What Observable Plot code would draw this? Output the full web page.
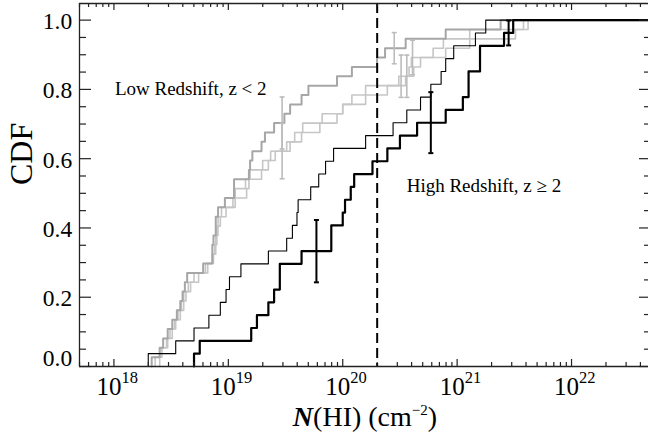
<!DOCTYPE html>
<html><head><meta charset="utf-8">
<script src="https://cdn.jsdelivr.net/npm/d3@7"></script>
<script src="https://cdn.jsdelivr.net/npm/@observablehq/plot@0.6"></script>
<style>
html,body{margin:0;padding:0;background:#fff;overflow:hidden;}
#chart svg{display:block;overflow:hidden;}
</style></head><body><div id="chart"></div>
<script>
// log10 N(HI) values of each sample
const highThinLogN = [18.30,18.54,18.70,18.83,18.93,18.98,19.01,19.11,19.35,19.51,19.56,19.60,19.61,19.72,19.79,19.85,19.92,20.20,20.44,20.56,20.68,20.77,20.86,20.90,20.97,21.16,21.25];
const highThickLogN = [18.70,18.75,19.20,19.25,19.35,19.40,19.45,19.45,19.64,19.90,19.90,20.00,20.02,20.07,20.10,20.26,20.39,20.50,20.65,20.90,21.05,21.10,21.10,21.20,21.20,21.41,21.49];
const lowALogN = [18.33,18.40,18.43,18.47,18.51,18.55,18.58,18.60,18.62,18.64,18.78,18.86,18.86,18.87,18.89,18.89,18.91,18.97,19.05,19.05,19.18,19.19,19.21,19.29,19.32,19.40,19.49,19.54,19.64,19.70,19.95,20.08,20.30,20.37,20.55,20.90,21.38];
const lowBLogN = [18.36,18.40,18.46,18.49,18.53,18.56,18.59,18.61,18.65,18.70,18.80,18.87,18.88,18.89,18.90,18.91,18.94,19.04,19.06,19.15,19.19,19.30,19.37,19.54,19.64,19.80,19.95,20.00,20.20,20.39,20.49,20.62,20.68,20.90,21.11,21.51,21.58];
const lowCLogN = [18.40,18.42,18.47,18.51,18.54,18.58,18.61,18.63,18.67,18.74,18.82,18.86,18.89,18.90,18.91,18.93,18.98,19.06,19.16,19.18,19.29,19.35,19.41,19.51,19.58,19.65,19.82,20.00,20.08,20.20,20.55,20.58,20.60,20.79,20.88,21.11,21.62];

// error bars
const errSeries = ["high","high","high","low","low","low","low","low","low"];
const errLogN   = [19.77,20.77,21.45,19.47,20.45,19.47,20.51,20.56,20.61];
const errCdf    = [0.333,0.704,0.963,0.703,0.919,0.622,0.838,0.838,0.892];
const errSize   = [0.090,0.088,0.036,0.075,0.045,0.080,0.061,0.061,0.050];

// annotations
const annText = ["Low Redshift, z < 2", "High Redshift, z \u2265 2"];
const annLogN = [18.0, 20.55];
const annCdf  = [0.80, 0.52];

// threshold
const thresholdN = [2e20];

// ticks
const yMajor = [0, 0.2, 0.4, 0.6, 0.8, 1.0];
const yMajorLabels = ["0.0","0.2","0.4","0.6","0.8","1.0"];
const yMinor = [0.05,0.10,0.15,0.25,0.30,0.35,0.45,0.50,0.55,0.65,0.70,0.75,0.85,0.90,0.95];
const xMajor = [1e18, 1e19, 1e20, 1e21, 1e22];
const xTickBase = ["10","10","10","10","10"];
const xTickExp = ["18","19","20","21","22"];
const xMinorMult = [2,3,4,5,6,7,8,9];
const xDecades = [1e17,1e18,1e19,1e20,1e21,1e22];

const xMin = 5e17, xMax = 5e22;
const xMinor = [];
xDecades.forEach(dec => xMinorMult.forEach(m => { const v = m * dec; if (v >= xMin && v <= xMax) xMinor.push(v); }));

function ecdf(logs) {
  const s = logs.slice().sort((a, b) => a - b);
  const n = s.length;
  const pts = [{N: 10 ** s[0], F: 0}];
  s.forEach((v, i) => pts.push({N: 10 ** v, F: (i + 1) / n}));
  pts.push({N: xMax, F: 1});
  return pts;
}

const errRows = errLogN.map((l, i) => ({N: 10 ** l, F: errCdf[i], e: errSize[i], s: errSeries[i]}));
const annRows = annText.map((t, i) => ({t, N: 10 ** annLogN[i], F: annCdf[i]}));

const cap = {draw(context, size) { const r = Math.sqrt(size / Math.PI); context.moveTo(-r, 0); context.lineTo(r, 0); }};

const FONT = "'Liberation Serif', 'Times New Roman', serif";
const axisColor = "#222";
const W = 648, H = 434, mL = 79, mT = 3, mB = 68;
const fw = W - mL, fh = H - mT - mB;

const lowThin = "#c6c6c6", lowThick = "#a6a6a6", errGray = "#bcbcbc";

const plot = Plot.plot({
  width: W, height: H,
  marginLeft: mL, marginRight: 0, marginTop: mT, marginBottom: mB,
  x: {type: "log", domain: [xMin, xMax], range: [79, 651], axis: null},
  y: {domain: [0, 1.048], axis: null},
  style: {fontFamily: FONT, background: "white", color: "black"},
  marks: [
    // low-z curves
    Plot.line(ecdf(lowCLogN), {x: "N", y: "F", curve: "step-after", stroke: lowThin, strokeWidth: 1.6}),
    Plot.line(ecdf(lowBLogN), {x: "N", y: "F", curve: "step-after", stroke: lowThin, strokeWidth: 1.6}),
    Plot.line(ecdf(lowALogN), {x: "N", y: "F", curve: "step-after", stroke: lowThick, strokeWidth: 2}),
    Plot.ruleX(errRows, {filter: d => d.s === "low", x: "N", y1: d => d.F - d.e, y2: d => d.F + d.e, stroke: errGray, strokeWidth: 1.6}),
    Plot.dot(errRows, {filter: d => d.s === "low", x: "N", y: d => d.F - d.e, symbol: cap, r: 2.5, fill: "none", stroke: errGray, strokeWidth: 1.6}),
    Plot.dot(errRows, {filter: d => d.s === "low", x: "N", y: d => d.F + d.e, symbol: cap, r: 2.5, fill: "none", stroke: errGray, strokeWidth: 1.6}),
    // high-z curves
    Plot.line(ecdf(highThinLogN), {x: "N", y: "F", curve: "step-after", stroke: "black", strokeWidth: 1.1}),
    Plot.line(ecdf(highThickLogN), {x: "N", y: "F", curve: "step-after", stroke: "black", strokeWidth: 2.2}),
    Plot.ruleX(errRows, {filter: d => d.s === "high", x: "N", y1: d => d.F - d.e, y2: d => d.F + d.e, stroke: "black", strokeWidth: 2}),
    Plot.dot(errRows, {filter: d => d.s === "high", x: "N", y: d => d.F - d.e, symbol: cap, r: 2.5, fill: "none", stroke: "black", strokeWidth: 2}),
    Plot.dot(errRows, {filter: d => d.s === "high", x: "N", y: d => d.F + d.e, symbol: cap, r: 2.5, fill: "none", stroke: "black", strokeWidth: 2}),
    // threshold
    Plot.ruleX(thresholdN, {stroke: "black", strokeWidth: 2, strokeDasharray: "10,5"}),
    // annotations
    Plot.text(annRows, {x: "N", y: "F", text: "t", textAnchor: "start", dx: 1, fontSize: 19, fill: "black"}),
    // frame (left, top, bottom)
    Plot.ruleX([xMin], {stroke: axisColor, strokeWidth: 1.3}),
    Plot.ruleY([0], {stroke: axisColor, strokeWidth: 1.3}),
    Plot.ruleY([1.048], {stroke: axisColor, strokeWidth: 1.3}),
    // y ticks
    Plot.tickY(yMajor, {y: d => d, insetRight: fw - 12, stroke: axisColor, strokeWidth: 1.2}),
    Plot.tickY(yMinor, {y: d => d, insetRight: fw - 7, stroke: axisColor, strokeWidth: 1.2}),
    Plot.tickY(yMajor, {y: d => d, insetLeft: fw - 9, stroke: axisColor, strokeWidth: 1.2}),
    Plot.tickY(yMinor, {y: d => d, insetLeft: fw - 4, stroke: axisColor, strokeWidth: 1.2}),
    // x ticks
    Plot.tickX(xMajor, {x: d => d, insetTop: fh - 7, stroke: axisColor, strokeWidth: 1.2}),
    Plot.tickX(xMinor, {x: d => d, insetTop: fh - 4, stroke: axisColor, strokeWidth: 1.2}),
    Plot.tickX(xMajor, {x: d => d, insetBottom: fh - 7, stroke: axisColor, strokeWidth: 1.2}),
    Plot.tickX(xMinor, {x: d => d, insetBottom: fh - 4, stroke: axisColor, strokeWidth: 1.2}),
    // y tick labels
    Plot.text(yMajor, {filter: d => d > 0, y: d => d, text: d => yMajorLabels[yMajor.indexOf(d)], frameAnchor: "left", textAnchor: "end", dx: -7.3, dy: 1.5, fontSize: 23.5, fill: "black"}),
    Plot.text(yMajor, {filter: d => d === 0, y: d => d, text: d => yMajorLabels[yMajor.indexOf(d)], frameAnchor: "left", textAnchor: "end", dx: -7.3, dy: -8, fontSize: 23.5, fill: "black"}),
    // x tick labels
    Plot.text(xMajor, {x: d => d, text: d => xTickBase[xMajor.indexOf(d)], frameAnchor: "bottom", textAnchor: "end", lineAnchor: "bottom", dx: 7.5, dy: 28.5, fontSize: 25, fill: "black"}),
    Plot.text(xMajor, {x: d => d, text: d => xTickExp[xMajor.indexOf(d)], frameAnchor: "bottom", textAnchor: "start", lineAnchor: "bottom", dx: 7.5, dy: 16, fontSize: 16.5, fill: "black"}),
    // y axis title
    Plot.text(["CDF"], {frameAnchor: "left", dx: -57.5, rotate: -90, fontSize: 32, fill: "black"})
  ]
});

// x axis title with bold-italic N and superscript
const svg = d3.select(plot);
const t = svg.append("text")
  .attr("x", 365).attr("y", 425.5)
  .attr("text-anchor", "middle")
  .attr("font-family", FONT)
  .attr("font-size", 28)
  .attr("fill", "black");
t.append("tspan").attr("font-weight", "bold").attr("font-style", "italic").text("N");
t.append("tspan").text("(HI) (cm");
t.append("tspan").attr("font-size", 15).attr("dy", -11).text("\u22122");
t.append("tspan").attr("dy", 11).text(")");

document.getElementById("chart").appendChild(plot);
</script></body></html>
